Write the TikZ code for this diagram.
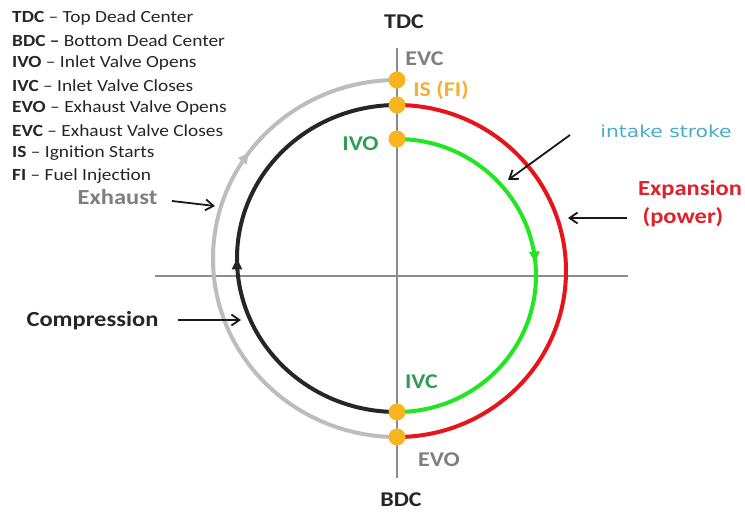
\documentclass[tikz,border=0pt]{standalone}
\usepackage{fontspec}
\usepackage{graphicx}
\setmainfont{Carlito}
\newfontfamily\intakefont{DejaVu Sans}
\usetikzlibrary{decorations.markings,arrows.meta}
\newcommand{\wideTxt}[1]{\scalebox{1.14}[1]{#1}}
\definecolor{exgray}{HTML}{BDBDBD}
\definecolor{cmpblack}{HTML}{262626}
\definecolor{expred}{HTML}{E8141C}
\definecolor{intgreen}{HTML}{22E622}
\definecolor{txtgreen}{HTML}{2E9E55}
\definecolor{txtgray}{HTML}{7F7F7F}
\definecolor{dotorange}{HTML}{F8B520}
\definecolor{txtorange}{HTML}{F2B134}
\definecolor{txtcyan}{HTML}{4BACC6}
\definecolor{txtred}{HTML}{E0202A}
\definecolor{axisgray}{HTML}{8C8C8C}
\tikzset{
  axisline/.style={draw=axisgray,line width=1.4pt},
  cyc/.style={line width=4pt},
  midarrow/.style={postaction={decorate},decoration={markings,mark=at position #1 with {\arrow{Triangle[length=11pt,width=10pt]}}}},
  dotst/.style={circle,fill=dotorange,inner sep=0pt,minimum size=17pt},
  legend/.style={anchor=west,inner sep=0pt,font=\fontsize{17}{20}\selectfont,text=black!85},
  big/.style={font=\fontsize{21.5}{24}\selectfont\bfseries,inner sep=0pt},
  mid/.style={font=\fontsize{21}{24}\selectfont\bfseries,inner sep=0pt},
  pointer/.style={-{Straight Barb[length=8pt,width=11pt]},line width=1.8pt,draw=black!90}
}
\begin{document}
\begin{tikzpicture}[x=1pt,y=-1pt]
\useasboundingbox[fill=white] (0,0) rectangle (745,514);
% axes
\coordinate (vt) at (397,48);
\coordinate (vb) at (397,478);
\coordinate (hl) at (155,276);
\coordinate (hr) at (628,276);
\draw[axisline] (vt) -- (vb);
\draw[axisline] (hl) -- (hr);
% dots positions
\coordinate (pEVC) at (397,80);
\coordinate (pIS) at (397,105);
\coordinate (pIVO) at (397,139);
\coordinate (pIVC) at (397,412);
\coordinate (pEVO) at (397,437);
% exhaust (gray): EVO -> EVC
\draw[cyc,exgray,midarrow=0.7] (pEVO) arc[start angle=90,end angle=270,x radius=184,y radius=178.5];
% compression (black): IVC -> IS
\draw[cyc,cmpblack,midarrow=0.5] (pIVC) arc[start angle=90,end angle=270,x radius=160,y radius=153.5];
% expansion (red): IS -> EVO
\draw[cyc,expred] (pIS) arc[start angle=270,end angle=450,x radius=169,y radius=166];
% intake (green): IVO -> IVC
\draw[cyc,intgreen,midarrow=0.47] (pIVO) arc[start angle=270,end angle=450,x radius=139,y radius=136.5];
% dots
\node[dotst] (dEVC) at (pEVC) {};
\node[dotst] (dIS) at (pIS) {};
\node[dotst] (dIVO) at (pIVO) {};
\node[dotst] (dIVC) at (pIVC) {};
\node[dotst] (dEVO) at (pEVO) {};
% legend
\node[legend] (l1) at (12,18) {\wideTxt{\textbf{TDC} -- Top Dead Center}};
\node[legend] (l2) at (12,41) {\wideTxt{\textbf{BDC --} Bottom Dead Center}};
\node[legend] (l3) at (12,63) {\wideTxt{\textbf{IVO} -- Inlet Valve Opens}};
\node[legend] (l4) at (12,86) {\wideTxt{\textbf{IVC} -- Inlet Valve Closes}};
\node[legend] (l5) at (12,108) {\wideTxt{\textbf{EVO} -- Exhaust Valve Opens}};
\node[legend] (l6) at (12,131) {\wideTxt{\textbf{EVC} -- Exhaust Valve Closes}};
\node[legend] (l7) at (12,153) {\wideTxt{\textbf{IS} -- Ignition Starts}};
\node[legend] (l8) at (12,176) {\wideTxt{\textbf{FI} -- Fuel Injection}};
% axis labels
\node[mid,text=black!85] (tdc) at (404,22) {\wideTxt{TDC}};
\node[mid,text=black!85] (bdc) at (401,500) {\wideTxt{BDC}};
% point labels
\node[mid,text=txtgray] (tEVC) at (424.5,58.5) {\wideTxt{EVC}};
\node[mid,text=txtorange] (tIS) at (441,90) {\wideTxt{IS (FI)}};
\node[mid,text=txtgreen] (tIVO) at (360.5,143.5) {\wideTxt{IVO}};
\node[mid,text=txtgreen] (tIVC) at (421.5,382) {\wideTxt{IVC}};
\node[mid,text=txtgray] (tEVO) at (439,459.5) {\wideTxt{EVO}};
% stroke labels
\node[big,text=txtgray] (tEx) at (117.5,197) {\wideTxt{Exhaust}};
\node[big,text=black!85] (tCo) at (92.5,321) {\wideTxt{Compression}};
\node[text=txtcyan,inner sep=0pt] (tIn) at (666,131) {\scalebox{1.23}[1]{\fontsize{16.5}{19}\intakefont intake stroke}};
\node[big,text=txtred] (tExp1) at (690,190) {\wideTxt{Expansion}};
\node[big,text=txtred] (tExp2) at (683,217) {\wideTxt{(power)}};
% pointers
\coordinate (aEx1) at (172,201);
\coordinate (aEx2) at (215,206);
\coordinate (aCo1) at (178,320);
\coordinate (aCo2) at (241,320);
\coordinate (aIn1) at (570,135);
\coordinate (aIn2) at (508,180);
\coordinate (aXp1) at (627,218);
\coordinate (aXp2) at (568,218);
\draw[pointer] (aEx1) -- (aEx2);
\draw[pointer] (aCo1) -- (aCo2);
\draw[pointer] (aIn1) -- (aIn2);
\draw[pointer] (aXp1) -- (aXp2);
\end{tikzpicture}
\end{document}
